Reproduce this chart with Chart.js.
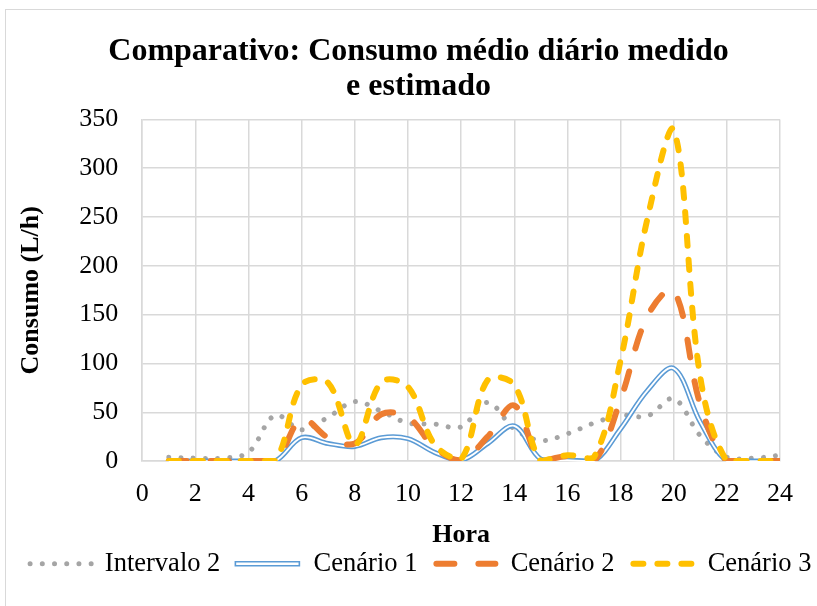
<!DOCTYPE html>
<html>
<head>
<meta charset="utf-8">
<title>Comparativo: Consumo médio diário medido e estimado</title>
<script src="https://cdn.jsdelivr.net/npm/chart.js@4.4.1/dist/chart.umd.min.js"></script>
<style>
  html, body { margin: 0; padding: 0; background: #fff; overflow: hidden; }
  #box {
    position: absolute; left: 5px; top: 9px; width: 826px; height: 597px;
    border-left: 1px solid #d9d9d9; border-top: 1px solid #d9d9d9; box-sizing: border-box;
  }
</style>
</head>
<body>
<div id="box"><canvas id="myChart"></canvas></div>
<script>
const horas = [1, 2, 3, 4, 5, 6, 7, 8, 9, 10, 11, 12, 13, 14, 15, 16, 17, 18, 19, 20, 21, 22, 23, 24];
const intervalo2 = [4, 3, 3, 9, 47, 32, 45, 61, 51, 39, 38, 35, 60, 33, 21, 28, 39, 47, 46, 64, 26, 4, 3, 6];
const cenario1 = [0, 0, 0, 0, 0, 24, 18, 15, 24, 23, 9, 1, 18, 36, 2, 1, 0, 33, 72, 95, 40, 0, 0, 0];
const cenario2 = [0, 0, 0, 0, 0, 43, 24, 18, 48, 45, 14, 1, 25, 57, 0, 5, 0, 63, 148, 175, 58, 0, 0, 0];
const cenario3 = [0, 0, 0, 0, 0, 78, 80, 17, 81, 76, 17, 2, 83, 78, 0, 6, 4, 103, 247, 340, 86, 0, 0, 0];
const xTicks = [0, 2, 4, 6, 8, 10, 12, 14, 16, 18, 20, 22, 24];
const yTicks = [0, 50, 100, 150, 200, 250, 300, 350];

const serif = "'Liberation Serif', 'Times New Roman', serif";
Chart.defaults.font.family = serif;
Chart.defaults.color = '#000';

const pontos = (vals) => horas.map((h, i) => ({ x: h, y: vals[i] }));

// white core over the blue line, gives the double line look
const linhaDupla = {
  id: 'linhaDupla',
  afterDatasetDraw(chart, args) {
    if (args.index !== 1) return;
    const ctx = chart.ctx;
    const a = chart.chartArea;
    ctx.save();
    ctx.beginPath();
    ctx.rect(a.left - 4, a.top - 4, a.right - a.left + 8, a.bottom - a.top + 8);
    ctx.clip();
    ctx.beginPath();
    args.meta.dataset.path(ctx);
    ctx.strokeStyle = '#fff';
    ctx.lineWidth = 1.8;
    ctx.lineJoin = 'round';
    ctx.stroke();
    ctx.restore();
  }
};

// legend samples drawn by hand so dots and dashes show
const amostras = {
  id: 'amostras',
  afterDraw(chart) {
    const lg = chart.legend;
    if (!lg || !lg.legendHitBoxes) return;
    const ctx = chart.ctx;
    const w = lg.options.labels.pointStyleWidth;
    lg.legendItems.forEach((it, i) => {
      const hb = lg.legendHitBoxes[i];
      const ds = chart.data.datasets[it.datasetIndex];
      const y = hb.top + hb.height / 2;
      ctx.save();
      if (it.datasetIndex === 1) {
        ctx.fillStyle = '#fff';
        ctx.strokeStyle = ds.borderColor;
        ctx.lineWidth = 1.6;
        ctx.beginPath();
        ctx.rect(hb.left + 1, y - 2, w - 2, 4);
        ctx.fill();
        ctx.stroke();
      } else {
        const cap = ds.borderWidth / 2;
        const fim = it.datasetIndex === 0 ? hb.left + w + 1 : hb.left + w - cap + 1;
        ctx.strokeStyle = ds.borderColor;
        ctx.lineWidth = ds.borderWidth;
        ctx.lineCap = 'round';
        ctx.setLineDash(ds.borderDash || []);
        ctx.beginPath();
        ctx.moveTo(hb.left + cap + 2, y);
        ctx.lineTo(fim, y);
        ctx.stroke();
      }
      ctx.restore();
    });
  }
};

const myChart = new Chart('myChart', {
  type: 'line',
  data: {
    datasets: [
      {
        label: 'Intervalo 2',
        data: pontos(intervalo2),
        borderColor: '#a5a5a5',
        backgroundColor: '#a5a5a5',
        borderWidth: 5,
        borderDash: [0.01, 12.2],
        order: 4
      },
      {
        label: 'Cenário 1',
        data: pontos(cenario1),
        borderColor: '#5b9bd5',
        backgroundColor: '#fff',
        borderWidth: 5,
        order: 3
      },
      {
        label: 'Cenário 2',
        data: pontos(cenario2),
        borderColor: '#ed7d31',
        backgroundColor: '#ed7d31',
        borderWidth: 6,
        borderDash: [18, 24],
        order: 2
      },
      {
        label: 'Cenário 3',
        data: pontos(cenario3),
        borderColor: '#ffc000',
        backgroundColor: '#ffc000',
        borderWidth: 6,
        borderDash: [10, 14],
        order: 1
      }
    ]
  },
  options: {
    responsive: true,
    maintainAspectRatio: false,
    animation: false,
    layout: { padding: { left: 0, right: 0, top: 0, bottom: 19 } },
    elements: {
      point: { radius: 0, hoverRadius: 0 },
      line: { tension: 0.35, borderCapStyle: 'round', borderJoinStyle: 'round', fill: false }
    },
    plugins: {
      title: {
        display: true,
        text: ['Comparativo: Consumo médio diário medido', 'e estimado'],
        color: '#000',
        font: { size: 32, weight: 'bold', lineHeight: 1.1 },
        padding: { top: 24, bottom: 15 }
      },
      legend: {
        position: 'bottom',
        labels: {
          usePointStyle: true,
          pointStyleWidth: 66,
          boxHeight: 4,
          padding: 14,
          color: '#000',
          font: { size: 26.5 },
          sort: (a, b) => a.datasetIndex - b.datasetIndex,
          generateLabels(chart) {
            const items = Chart.defaults.plugins.legend.labels.generateLabels(chart);
            items.forEach((it) => {
              it.pointStyle = 'line';
              it.strokeStyle = 'rgba(0,0,0,0)';
              it.fillStyle = 'rgba(0,0,0,0)';
            });
            return items;
          }
        }
      },
      tooltip: { enabled: false }
    },
    scales: {
      x: {
        type: 'linear',
        min: 0,
        max: 24,
        afterBuildTicks: (s) => { s.ticks = xTicks.map((v) => ({ value: v })); },
        afterFit: (s) => { s.paddingRight = 51; },
        grid: { color: '#d9d9d9', lineWidth: 1.5, drawTicks: false },
        border: { color: '#d9d9d9', width: 1.5 },
        ticks: { padding: 17, color: '#000', font: { size: 26 }, maxRotation: 0 },
        title: {
          display: true,
          text: 'Hora',
          color: '#000',
          font: { size: 26, weight: 'bold' },
          padding: { top: -7, bottom: -14 }
        }
      },
      y: {
        min: 0,
        max: 350,
        afterBuildTicks: (s) => { s.ticks = yTicks.map((v) => ({ value: v })); },
        grid: { color: '#d9d9d9', lineWidth: 1.5, drawTicks: false },
        border: { color: '#d9d9d9', width: 1.5 },
        ticks: { padding: 24, color: '#000', font: { size: 26 } },
        title: {
          display: true,
          text: 'Consumo (L/h)',
          color: '#000',
          font: { size: 26, weight: 'bold' },
          padding: { top: 10, bottom: 8 }
        }
      }
    }
  },
  plugins: [linhaDupla, amostras]
});
</script>
</body>
</html>
